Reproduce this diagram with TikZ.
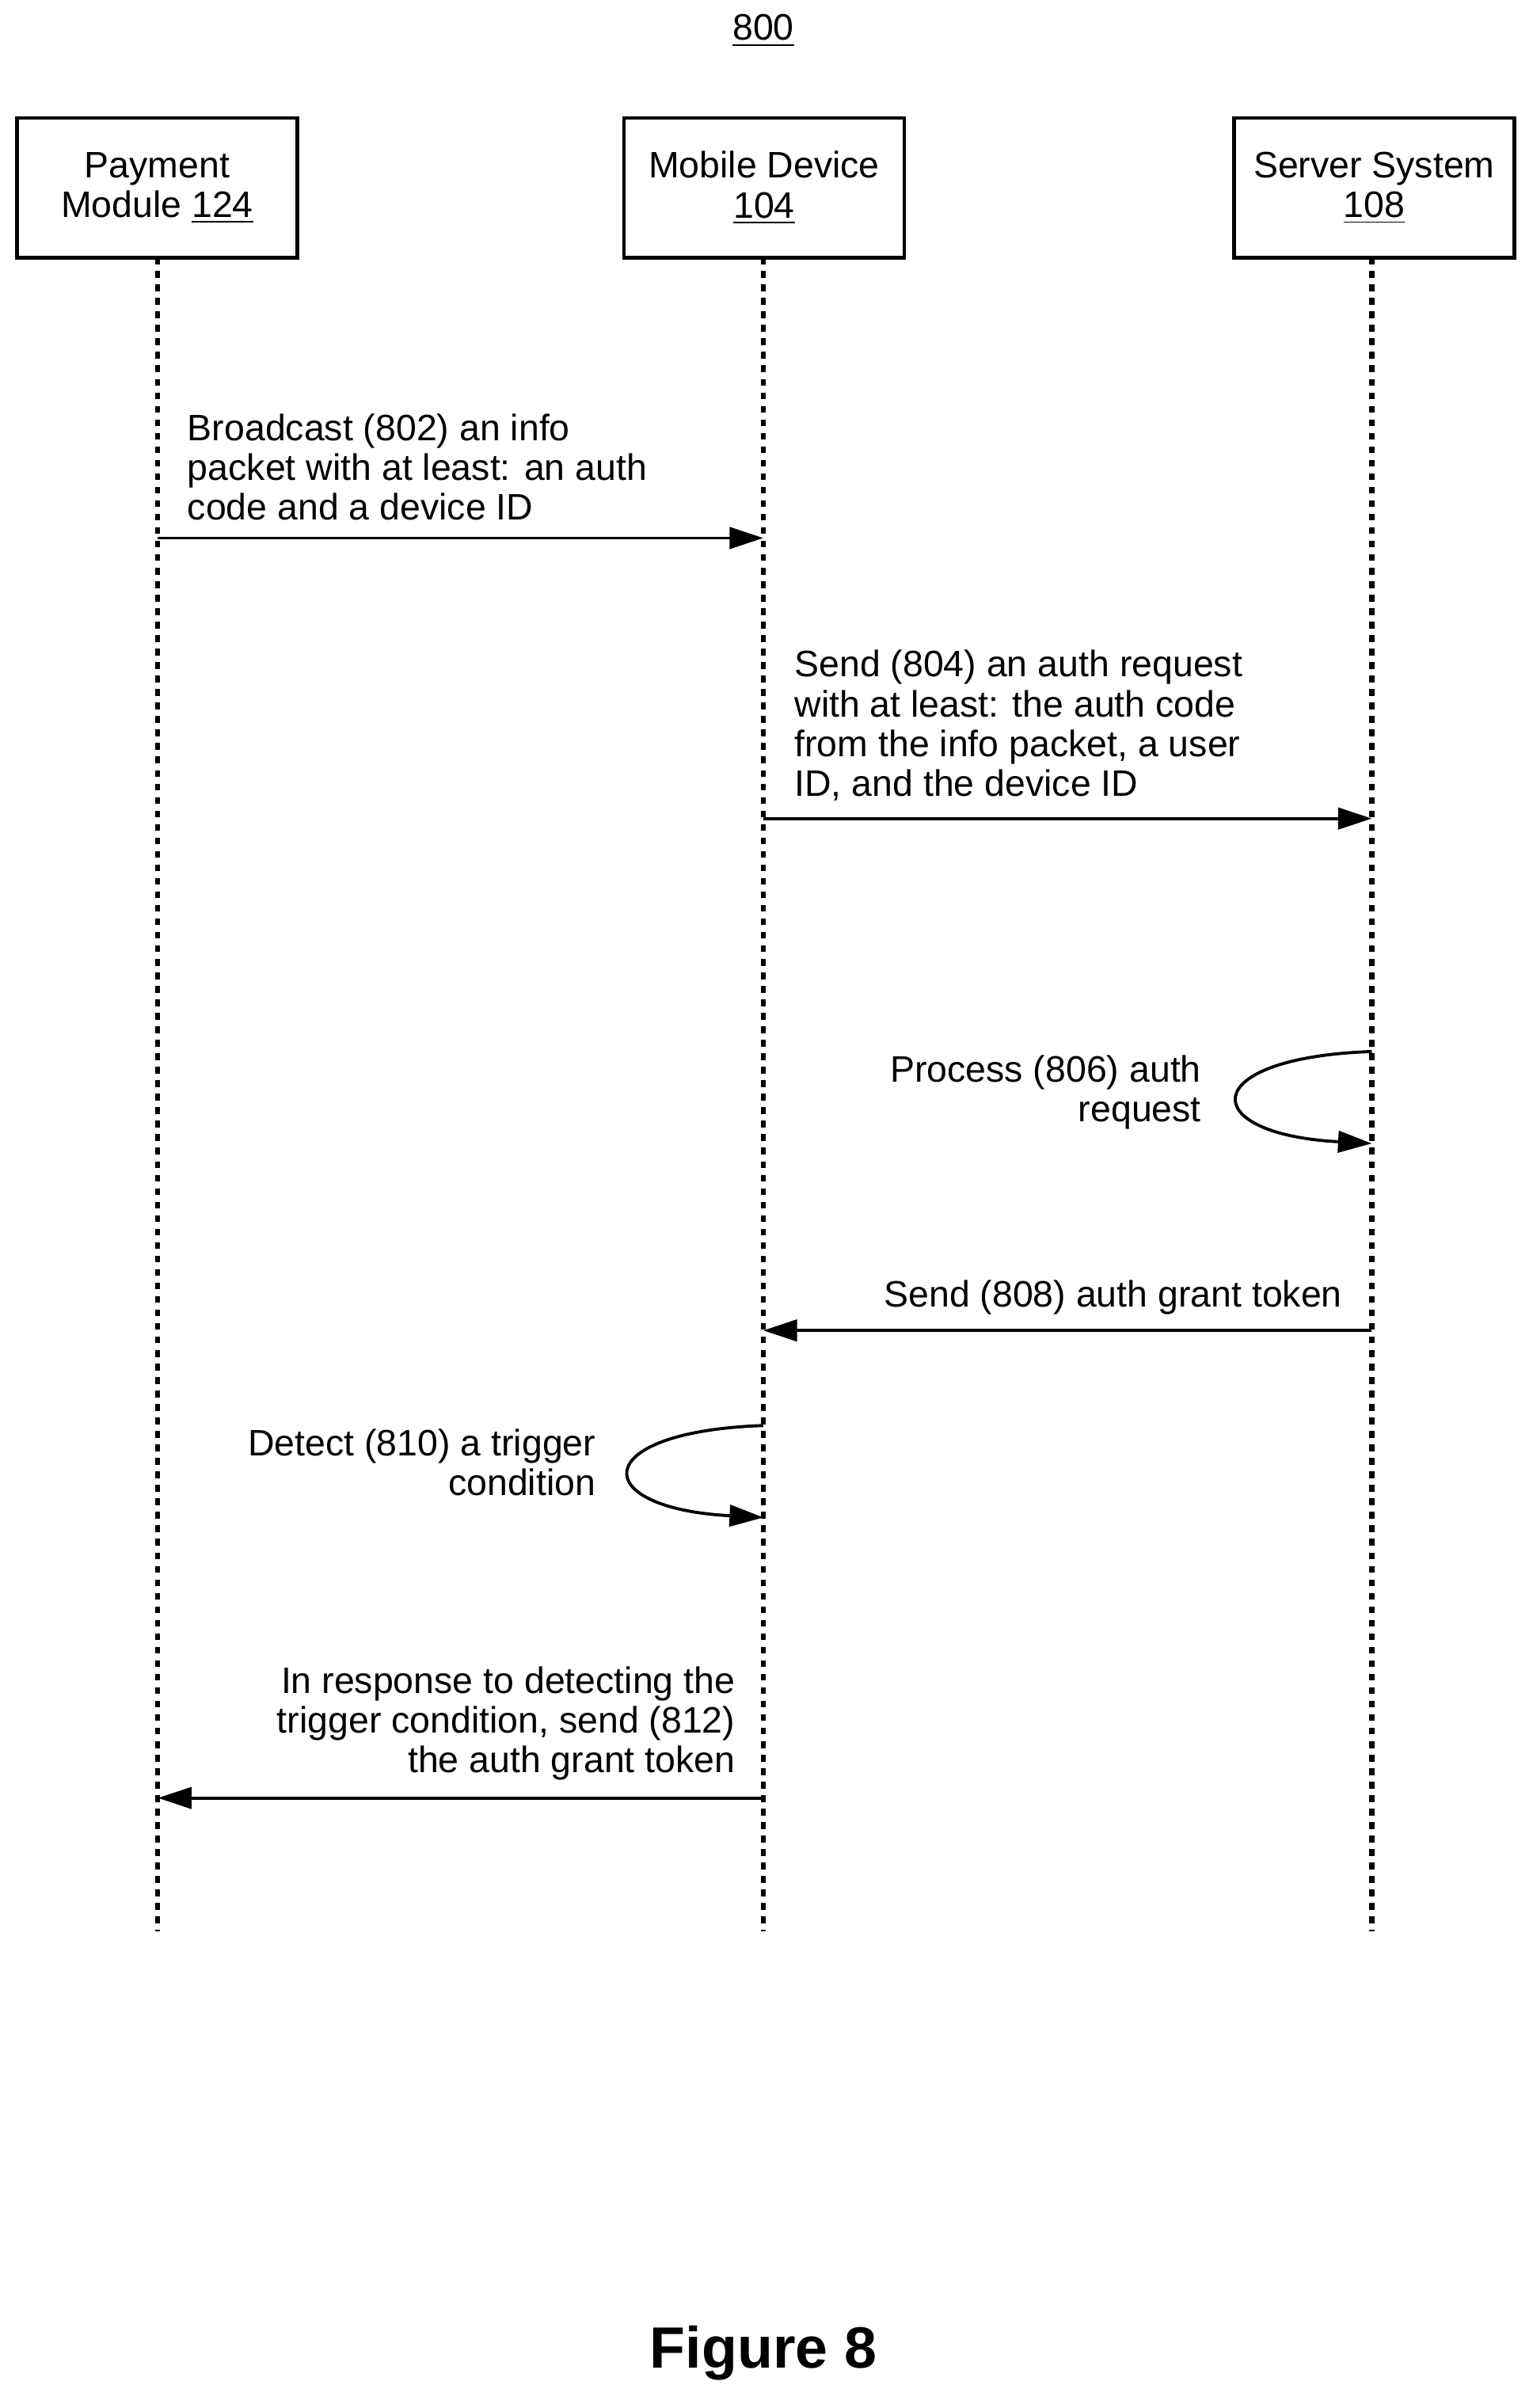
\documentclass[tikz,border=0pt]{standalone}
\usepackage{fontspec}
\setmainfont{Liberation Sans}
\usetikzlibrary{arrows.meta}
\begin{document}
\begin{tikzpicture}[x=0.5pt,y=-0.5pt,
  box/.style={draw,line width=1.2pt,minimum width=91.5pt,minimum height=45.5pt,align=center,inner sep=0pt,font=\fontsize{12}{13}\selectfont},
  life/.style={line width=1.6pt,dash pattern=on 2.2pt off 2.2pt},
  msg/.style={line width=1pt,-{Triangle[length=11pt,width=7pt]}},
  lbl/.style={inner sep=0pt,font=\fontsize{12}{13}\selectfont}]
\useasboundingbox (0,0) rectangle (1000,1571);
\node[lbl] (num) at (498,20) {\underline{800}};
\node[box] (pm) at (102.5,122.5) {Payment\\Module \underline{124}};
\node[box] (md) at (498.5,122.5) {Mobile Device\\\underline{104}};
\node[box] (ss) at (896.5,122.5) {Server System\\\underline{108}};
\coordinate (pmE) at (103,1260);
\coordinate (mdE) at (498,1260);
\coordinate (ssE) at (895,1260);
\draw[life] (103,168) -- (pmE);
\draw[life] (498,168) -- (mdE);
\draw[life] (895,168) -- (ssE);
% 802
\coordinate (a1) at (103,351); \coordinate (b1) at (498,351);
\draw[msg] (a1) -- (b1);
\node[lbl,align=left,anchor=south west] (t802) at (122,340) {Broadcast (802) an info\\packet with at least: an auth\\code and a device ID};
% 804
\coordinate (a2) at (498,534); \coordinate (b2) at (895,534);
\draw[msg] (a2) -- (b2);
\node[lbl,align=left,anchor=south west] (t804) at (518,523) {Send (804) an auth request\\with at least: the auth code\\from the info packet, a user\\ID, and the device ID};
% 806
\coordinate (a3) at (895,686); \coordinate (b3) at (895,746);
\draw[msg] (a3) .. controls (780,690) and (780,740) .. (b3);
\node[lbl,align=right,anchor=north east] (t806) at (784,688) {Process (806) auth\\request};
% 808
\coordinate (a4) at (895,868); \coordinate (b4) at (498,868);
\draw[msg] (a4) -- (b4);
\node[lbl,anchor=south east] (t808) at (876,858) {Send (808) auth grant token};
% 810
\coordinate (a5) at (498,930); \coordinate (b5) at (498,990);
\draw[msg] (a5) .. controls (383,934) and (383,984) .. (b5);
\node[lbl,align=right,anchor=north east] (t810) at (389,932) {Detect (810) a trigger\\condition};
% 812
\coordinate (a6) at (498,1173); \coordinate (b6) at (103,1173);
\draw[msg] (a6) -- (b6);
\node[lbl,align=right,anchor=south east] (t812) at (480,1162) {In response to detecting the\\trigger condition, send (812)\\the auth grant token};
\node[font=\fontsize{19}{22}\selectfont\bfseries] (fig) at (498,1535) {Figure 8};
\end{tikzpicture}
\end{document}
